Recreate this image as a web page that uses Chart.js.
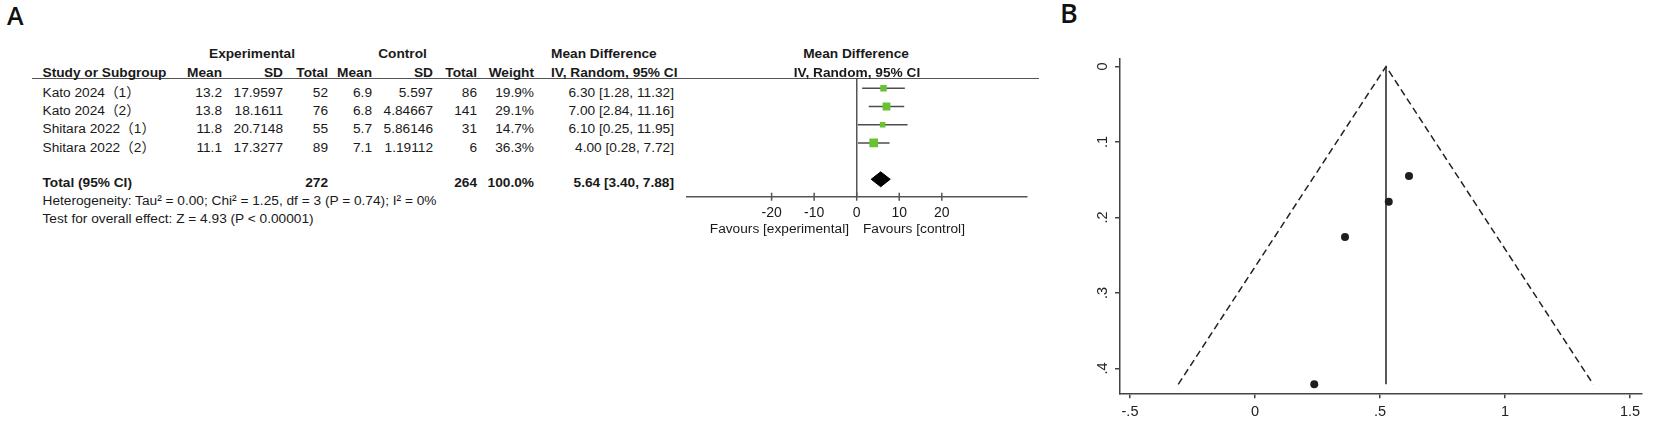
<!DOCTYPE html>
<html>
<head>
<meta charset="utf-8">
<script src="https://cdn.jsdelivr.net/npm/chart.js@4.4.1/dist/chart.umd.min.js"></script>
<style>
  html, body { margin: 0; padding: 0; background: #fff; }
  #page {
    position: relative; width: 1654px; height: 427px; overflow: hidden;
    font-family: "Liberation Sans", Arial, "Noto Sans CJK SC", sans-serif; color: #1a1a1a;
  }
  .t { position: absolute; white-space: nowrap; }
  .box { position: absolute; }
  .panel { position: absolute; font-family: "Open Sans", "Liberation Sans", sans-serif; font-weight: 600; color: #111; }
</style>
</head>
<body>
<div id="page">
  <div class="panel" style="left:7px;top:-2px;font-size:25px;">A</div>
  <div class="panel" style="left:1060px;top:-6px;font-size:27px;">B</div>
  <div style="position:absolute;left:32px;top:77.8px;width:1007px;height:1.5px;background:#555"></div>
  <div class="box" style="left:680px;top:70px;width:360px;height:170px"><canvas id="forest"></canvas></div>
  <div class="box" style="left:1040px;top:40px;width:614px;height:387px"><canvas id="funnel"></canvas></div>
</div>
<script>
// ---- forest plot data (panel A) ----
const studies   = ['Kato 2024（1）', 'Kato 2024（2）', 'Shitara 2022（1）', 'Shitara 2022（2）'];
const expMean   = [13.2, 13.8, 11.8, 11.1];
const expSD     = [17.9597, 18.1611, 20.7148, 17.3277];
const expTotal  = [52, 76, 55, 89];
const ctlMean   = [6.9, 6.8, 5.7, 7.1];
const ctlSD     = [5.597, 4.84667, 5.86146, 1.19112];
const ctlTotal  = [86, 141, 31, 6];
const weights   = [19.9, 29.1, 14.7, 36.3];
const md        = [6.30, 7.00, 6.10, 4.00];
const ciLo      = [1.28, 2.84, 0.25, 0.28];
const ciHi      = [11.32, 11.16, 11.95, 7.72];
const total     = { exp: 272, ctl: 264, weight: 100.0, md: 5.64, lo: 3.40, hi: 7.88 };
const forestTicks = [-20, -10, 0, 10, 20];
const heterogeneity = 'Heterogeneity: Tau² = 0.00; Chi² = 1.25, df = 3 (P = 0.74); I² = 0%';
const overallTest   = 'Test for overall effect: Z = 4.93 (P < 0.00001)';

// ---- funnel plot data (panel B) ----
const funnelPoints = [
  { x: 0.616, y: 0.145 },
  { x: 0.535, y: 0.179 },
  { x: 0.360, y: 0.226 },
  { x: 0.237, y: 0.421 }
];
const funnelEdges  = [{ x: -0.307, y: 0.421 }, { x: 0.524, y: 0 }, { x: 1.353, y: 0.421 }];
const pooledLine   = [{ x: 0.524, y: 0 }, { x: 0.524, y: 0.421 }];
const funnelXTicks = [-0.5, 0, 0.5, 1, 1.5];
const funnelYTicks = [0, 0.1, 0.2, 0.3, 0.4];

Chart.defaults.font.family = '"Liberation Sans", Arial, sans-serif';
Chart.defaults.color = '#1a1a1a';
Chart.defaults.animation = false;

// ---- table text ----
const page = document.getElementById('page');
const FS = 13.7;

function addText(str, x, y, align, bold) {
  const d = document.createElement('div');
  d.className = 't';
  d.textContent = str;
  d.style.fontSize = FS + 'px';
  d.style.lineHeight = (FS * 1.2) + 'px';
  d.style.top = (y - 0.5885 * FS) + 'px';
  if (bold) d.style.fontWeight = 'bold';
  if (align === 'right') {
    d.style.right = (1654 - x) + 'px';
  } else if (align === 'center') {
    d.style.left = x + 'px';
    d.style.transform = 'translateX(-50%)';
  } else {
    d.style.left = x + 'px';
  }
  page.appendChild(d);
}

const col = { name: 42.5, eMean: 222, eSD: 283, eTot: 328, cMean: 372, cSD: 433, cTot: 477, w: 534, ci: 674, ciHead: 551 };
const rowY = [92.7, 111, 129.4, 147.7];

addText('Experimental', 252, 54.5, 'center', true);
addText('Control', 402.5, 54.5, 'center', true);
addText('Mean Difference', col.ciHead, 54.5, 'left', true);
addText('Mean Difference', 856, 54.5, 'center', true);

addText('Study or Subgroup', col.name, 72.7, 'left', true);
addText('Mean', col.eMean, 72.7, 'right', true);
addText('SD', col.eSD, 72.7, 'right', true);
addText('Total', col.eTot, 72.7, 'right', true);
addText('Mean', col.cMean, 72.7, 'right', true);
addText('SD', col.cSD, 72.7, 'right', true);
addText('Total', col.cTot, 72.7, 'right', true);
addText('Weight', col.w, 72.7, 'right', true);
addText('IV, Random, 95% CI', col.ciHead, 72.7, 'left', true);
addText('IV, Random, 95% CI', 857, 72.7, 'center', true);

studies.forEach((s, i) => {
  const y = rowY[i];
  addText(s, col.name, y, 'left');
  addText(String(expMean[i]), col.eMean, y, 'right');
  addText(String(expSD[i]), col.eSD, y, 'right');
  addText(String(expTotal[i]), col.eTot, y, 'right');
  addText(String(ctlMean[i]), col.cMean, y, 'right');
  addText(String(ctlSD[i]), col.cSD, y, 'right');
  addText(String(ctlTotal[i]), col.cTot, y, 'right');
  addText(weights[i].toFixed(1) + '%', col.w, y, 'right');
  addText(md[i].toFixed(2) + ' [' + ciLo[i].toFixed(2) + ', ' + ciHi[i].toFixed(2) + ']', col.ci, y, 'right');
});

addText('Total (95% CI)', col.name, 183, 'left', true);
addText(String(total.exp), col.eTot, 183, 'right', true);
addText(String(total.ctl), col.cTot, 183, 'right', true);
addText(total.weight.toFixed(1) + '%', col.w, 183, 'right', true);
addText(total.md.toFixed(2) + ' [' + total.lo.toFixed(2) + ', ' + total.hi.toFixed(2) + ']', col.ci, 183, 'right', true);
addText(heterogeneity, col.name, 201.3, 'left');
addText(overallTest, col.name, 219.5, 'left');
addText('Favours [experimental]', 849, 229, 'right');
addText('Favours [control]', 863, 229, 'left');

// ---- forest chart ----
const crossTicks = {
  id: 'crossTicks',
  afterDraw(chart) {
    const sx = chart.scales.x, y0 = chart.chartArea.bottom, c = chart.ctx;
    c.save();
    c.strokeStyle = '#555';
    c.lineWidth = 1.5;
    sx.ticks.forEach(t => {
      const px = sx.getPixelForValue(t.value);
      c.beginPath();
      c.moveTo(px, y0 - 4);
      c.lineTo(px, y0 + 4);
      c.stroke();
    });
    c.restore();
  }
};

const diamondHalf = 0.41;
const ciSets = studies.map((s, i) => ({
  data: [{ x: ciLo[i], y: i }, { x: ciHi[i], y: i }],
  showLine: true,
  borderColor: '#4d4d4d',
  borderWidth: 1.5,
  pointRadius: 0,
  order: 2
}));

new Chart(document.getElementById('forest'), {
  type: 'scatter',
  data: {
    datasets: [
      {
        data: md.map((m, i) => ({ x: m, y: i })),
        pointStyle: 'rect',
        pointRadius: ctx => 1.02 * Math.sqrt(weights[ctx.dataIndex]),
        backgroundColor: '#69c231',
        borderWidth: 0,
        order: 0
      },
      ...ciSets,
      {
        data: [
          { x: total.lo, y: 5 },
          { x: total.md, y: 5 - diamondHalf },
          { x: total.hi, y: 5 },
          { x: total.md, y: 5 + diamondHalf },
          { x: total.lo, y: 5 }
        ],
        showLine: true,
        fill: 'shape',
        backgroundColor: '#000',
        borderColor: '#000',
        borderWidth: 1,
        pointRadius: 0,
        order: 1
      }
    ]
  },
  options: {
    responsive: true,
    maintainAspectRatio: false,
    layout: { padding: { left: 6.5, right: 13.1, top: 8.5, bottom: 0 } },
    plugins: { legend: { display: false }, tooltip: { enabled: false } },
    scales: {
      x: {
        type: 'linear',
        min: -40,
        max: 40,
        afterBuildTicks: s => { s.ticks = forestTicks.map(v => ({ value: v })); },
        afterFit: s => { s.height = 43.3; },
        grid: {
          drawTicks: false,
          color: ctx => (ctx.tick && ctx.tick.value === 0 ? '#555' : 'rgba(0,0,0,0)'),
          lineWidth: 1.5
        },
        border: { color: '#555', width: 1.5 },
        ticks: { font: { size: 14 }, padding: 8, color: '#1a1a1a', maxRotation: 0 }
      },
      y: {
        type: 'linear',
        display: false,
        reverse: true,
        min: -0.538,
        max: 5.957
      }
    }
  },
  plugins: [crossTicks]
});

// ---- funnel chart ----
const fmt = v => String(v).replace(/^(-?)0\./, '$1.');

const rotatedYLabels = {
  id: 'rotatedYLabels',
  afterDraw(chart) {
    const sy = chart.scales.y, c = chart.ctx, x = chart.chartArea.left - 13.5;
    c.save();
    c.fillStyle = '#222';
    c.font = '14.5px "Liberation Sans", Arial, sans-serif';
    c.textAlign = 'center';
    c.textBaseline = 'alphabetic';
    sy.ticks.forEach(t => {
      const py = sy.getPixelForValue(t.value);
      c.save();
      c.translate(x, py);
      c.rotate(-Math.PI / 2);
      c.fillText(fmt(t.value), 0, 0);
      c.restore();
    });
    c.restore();
  }
};

const axisGrid = { drawOnChartArea: false, drawTicks: true, tickLength: 5, color: '#444', lineWidth: 1.5 };

new Chart(document.getElementById('funnel'), {
  type: 'scatter',
  data: {
    datasets: [
      {
        data: funnelPoints,
        pointRadius: 4,
        backgroundColor: '#1e1e1e',
        borderWidth: 0
      },
      {
        data: funnelEdges,
        showLine: true,
        borderColor: '#222',
        borderWidth: 1.5,
        borderDash: [7, 4],
        pointRadius: 0
      },
      {
        data: pooledLine,
        showLine: true,
        borderColor: '#222',
        borderWidth: 1.5,
        pointRadius: 0
      }
    ]
  },
  options: {
    responsive: true,
    maintainAspectRatio: false,
    layout: { padding: { left: 0, right: 12, top: 18.3, bottom: 0 } },
    plugins: { legend: { display: false }, tooltip: { enabled: false } },
    scales: {
      x: {
        type: 'linear',
        min: -0.54,
        max: 1.548,
        afterBuildTicks: s => { s.ticks = funnelXTicks.map(v => ({ value: v })); },
        afterFit: s => { s.height = 33.7; },
        grid: axisGrid,
        border: { color: '#444', width: 1.5 },
        ticks: { callback: v => fmt(v), font: { size: 14.5 }, color: '#222', padding: 5, maxRotation: 0 }
      },
      y: {
        type: 'linear',
        reverse: true,
        min: -0.01086,
        max: 0.4329,
        afterBuildTicks: s => { s.ticks = funnelYTicks.map(v => ({ value: v })); },
        afterFit: s => { s.width = 80; },
        grid: axisGrid,
        border: { color: '#444', width: 1.5 },
        ticks: { display: false }
      }
    }
  },
  plugins: [rotatedYLabels]
});
</script>
</body>
</html>
